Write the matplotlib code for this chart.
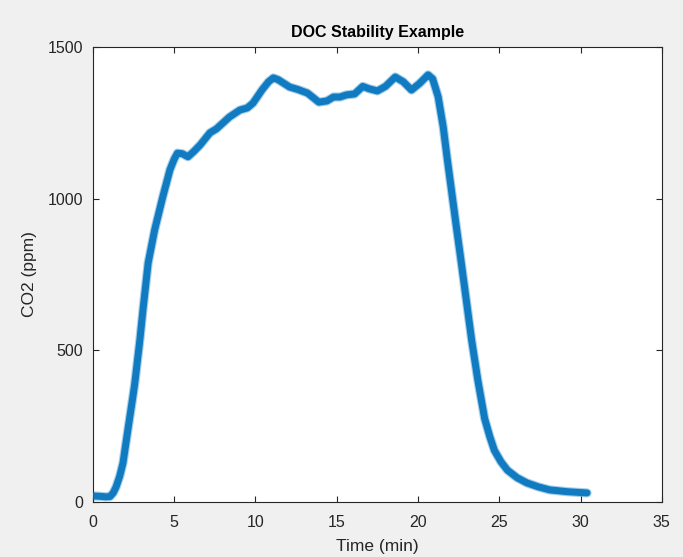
import matplotlib
matplotlib.use("Agg")
import matplotlib.pyplot as plt

# CO2 trace (time in min, CO2 in ppm)
time_min = [0.0, 0.4, 0.8, 1.05, 1.25, 1.43, 1.65, 1.85, 2.15, 2.46, 2.58, 2.89,
            3.08, 3.4, 3.8, 4.3, 4.74, 5.0, 5.2, 5.5, 5.85, 6.2, 6.6, 7.2,
            7.6, 8.4, 9.04, 9.5, 9.85, 10.4, 10.8, 11.1, 11.4, 12.1, 12.6,
            13.2, 13.9, 14.4, 14.8, 15.2, 15.6, 16.1, 16.6, 17.0, 17.5, 18.0,
            18.6, 19.1, 19.6, 20.1, 20.62, 20.9, 21.24, 21.55, 21.81, 22.08,
            22.36, 22.64, 22.97, 23.30, 23.68, 24.1, 24.42, 24.7, 25.1, 25.5,
            26.1, 26.7, 27.4, 28.1, 29.2, 30.4]
co2_ppm = [20, 19, 17, 18, 30, 50, 85, 128, 237, 347, 392, 534,
           633, 788, 897, 1006, 1095, 1130, 1150, 1148, 1138, 1155, 1177, 1217,
           1230, 1269, 1292, 1299, 1315, 1358, 1385, 1398, 1392, 1368, 1360,
           1348, 1318, 1322, 1335, 1335, 1342, 1345, 1370, 1362, 1355, 1370,
           1401, 1385, 1358, 1380, 1408, 1395, 1336, 1237, 1127, 1019,
           907, 798, 666, 534, 402, 275, 215, 170, 133, 105,
           80, 63, 50, 40, 34, 30]

x_ticks = [0, 5, 10, 15, 20, 25, 30, 35]
y_ticks = [0, 500, 1000, 1500]

plt.rcParams['font.family'] = ['Liberation Sans', 'DejaVu Sans']

fig = plt.figure(figsize=(6.83, 5.57), dpi=100, facecolor='#f0f0f0')
ax = fig.add_axes([0.136, 0.0987, 0.833, 0.817])
ax.set_facecolor('white')

blue = '#0072BD'
# soft halo + core stroke to mimic the dense scatter markers
ax.plot(time_min, co2_ppm, color=blue, lw=6.6, alpha=0.35,
        solid_capstyle='round', solid_joinstyle='round', zorder=2)
ax.plot(time_min, co2_ppm, color=blue, lw=5.0, alpha=0.9,
        solid_capstyle='round', solid_joinstyle='round', zorder=3)

ax.set_xlim(0, 35)
ax.set_ylim(0, 1500)
ax.set_xticks(x_ticks)
ax.set_yticks(y_ticks)
ax.tick_params(direction='in', top=True, right=True, length=4, width=0.8,
               colors='#262626', labelsize=11.5)
ax.tick_params(axis='x', pad=9)
ax.tick_params(axis='y', pad=7)
for s in ax.spines.values():
    s.set_color('#262626')
    s.set_linewidth(0.8)

ax.set_title('DOC Stability Example', fontsize=11.5, fontweight='bold',
             color='black', pad=7)
ax.set_xlabel('Time (min)', fontsize=12.5, color='#262626', labelpad=7)
ax.set_ylabel('CO2 (ppm)', fontsize=12.5, color='#262626', labelpad=8)

fig.savefig('out.png', dpi=100, facecolor=fig.get_facecolor())
